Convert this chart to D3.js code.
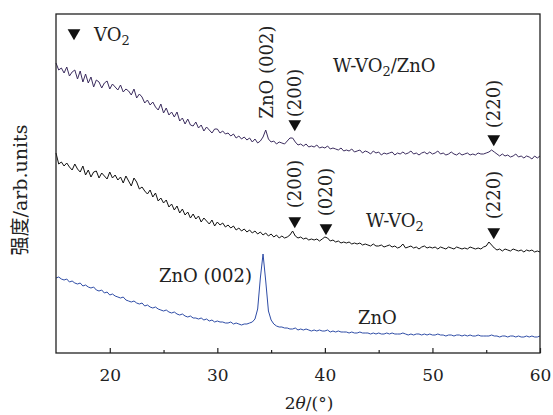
<!DOCTYPE html>
<html>
<head>
<meta charset="utf-8">
<script src="https://cdn.jsdelivr.net/npm/d3@7"></script>
<style>
  body { margin: 0; background: #fff; }
  svg text { font-family: "DejaVu Serif", serif; fill: #222; }
</style>
</head>
<body>
<div id="canvas"></div>
<script>
// 2theta grid of the scan, 0.25 deg steps from 15 to 60
var twoTheta = d3.range(0, 181).map(function(i){ return 15 + i * 0.25; });

// W-VO2/ZnO (top curve), arb. units
var wvo2zno = [
  290,283,285,280, 286,277,281,283, 274,282,271,279, 270,276,266,273,
  271,265,270,272, 264,269,266,263, 268,261,264,262, 258,264,255,259,
  256,250,253,248, 251,246,243,249, 240,245,238,241, 236,241,232,235,
  229,234,228,227, 231,225,228,222, 226,223,220,224, 224,220,222,219,
  220,217,219,215, 217,214,216,213, 215,211,214,210, 212,216,223,214,
  211,212,209,211, 210,209,212,215, 215,211,208,209, 207,209,206,207,
  206,208,205,206, 205,207,204,205, 204,203,205,202, 203,202,204,201,
  202,203,200,202, 201,199,202,200, 201,198,200,199, 200,201,198,200,
  199,201,199,200, 202,199,200,198, 200,201,199,201, 199,200,202,199,
  200,198,199,201, 199,198,200,198, 199,200,198,199, 198,200,199,199,
  200,201,203,201, 199,197,199,197, 198,196,197,199, 196,197,195,197,
  196,194,197,195, 197
];

// W-VO2 (middle curve)
var wvo2 = [
  200,189,191,187, 190,186,183,189, 184,181,187,178, 183,176,181,182,
  175,180,177,174, 181,175,178,173, 176,170,177,172, 167,175,171,164,
  166,162,159,163, 156,160,152,155, 150,153,146,149, 143,147,140,144,
  138,141,135,139, 134,137,131,135, 132,129,133,127, 131,128,130,126,
  128,125,127,123, 125,122,124,121, 123,120,122,119, 121,118,120,117,
  119,116,118,115, 117,115,116,118, 122,117,115,116, 114,115,113,114,
  113,114,112,114, 116,115,112,113, 111,112,110,111, 110,111,109,110,
  109,110,108,109, 108,107,109,107, 107,108,106,107, 108,106,107,105,
  106,109,105,106, 107,105,106,104, 106,107,105,106, 105,106,104,106,
  105,104,106,105, 104,106,105,104, 105,104,106,105, 104,105,104,106,
  107,111,108,105, 103,104,102,104, 103,102,104,103, 102,103,101,103,
  102,103,101,102, 101
];

// ZnO (bottom curve)
var zno = [
  75,76,74,73, 74,71,72,70, 69,70,67,68, 66,65,66,63,
  62,63,60,61, 58,59,57,56, 55,56,53,52, 51,52,50,49,
  50,47,48,46, 45,46,44,43, 42,43,41,40, 41,39,38,39,
  37,36,37,35, 35,34,35,33, 34,32,33,31, 32,31,31,30,
  30,31,29,30, 29,28,29,29, 30,31,34,44, 75,99,72,42,
  33,29,27,26, 26,25,25,24, 24,25,23,24, 23,24,23,22,
  23,22,23,22, 22,23,21,22, 21,22,21,21, 21,20,21,20,
  20,21,20,20, 20,19,20,19, 20,19,19,20, 19,20,19,19,
  19,20,19,18, 19,18,19,19, 18,19,18,19, 18,18,19,18,
  18,17,18,18, 17,18,18,17, 18,17,18,17, 17,18,17,17,
  17,17,18,17, 17,16,17,17, 16,17,17,16, 17,16,16,17,
  16,17,16,16, 17
];

var majorTicks = [20, 30, 40, 50, 60];
var minorTicks = [25, 35, 45, 55];

// VO2 reflections marked with triangles: [2theta, label]
var peaksTop = [[37.2, '(200)'], [55.7, '(220)']];
var peaksMid = [[37.2, '(200)'], [40.1, '(020)'], [55.7, '(220)']];

var outerWidth = 553, outerHeight = 415;
var m = {t:14, r:13, b:62, l:56};
var w = outerWidth - m.l - m.r,
    h = outerHeight - m.t - m.b;

var svg = d3.select('#canvas')
  .append('svg')
  .attr('width', outerWidth)
  .attr('height', outerHeight);

var plot = svg.append('g')
  .attr('transform', 'translate(' + m.l + ',' + m.t + ')');

var scaleX = d3.scaleLinear().domain([15, 60]).range([0, w]);
var scaleY = d3.scaleLinear().domain([0, 339]).range([h, 0]);

// curves
var series = [
  {vals: wvo2zno, color: '#3b2c5e'},
  {vals: wvo2, color: '#111'},
  {vals: zno, color: '#2e4ca6'}
];
var line = d3.line()
  .x(function(d){ return scaleX(d[0]); })
  .y(function(d){ return scaleY(d[1]); });

series.forEach(function(s){
  plot.append('path')
    .datum(twoTheta.map(function(t, i){ return [t, s.vals[i]]; }))
    .attr('d', line)
    .attr('fill', 'none')
    .attr('stroke', s.color)
    .attr('stroke-width', 1);
});

// frame
plot.append('rect')
  .attr('width', w).attr('height', h)
  .attr('fill', 'none').attr('stroke', '#222').attr('stroke-width', 1.3);

// x axis, ticks pointing inward
var axisX = d3.axisBottom(scaleX)
  .tickValues(majorTicks)
  .tickSizeInner(-5).tickSizeOuter(0)
  .tickPadding(16);
var gx = plot.append('g').attr('class', 'xAxis')
  .attr('transform', 'translate(0,' + h + ')')
  .call(axisX);
gx.select('.domain').remove();
gx.selectAll('line').attr('stroke', '#222').attr('stroke-width', 1.2);
gx.selectAll('text').style('font-size', '17px').attr('fill', '#222');

var axisMinor = d3.axisBottom(scaleX)
  .tickValues(minorTicks)
  .tickSizeInner(-3).tickSizeOuter(0)
  .tickFormat('');
var gm = plot.append('g')
  .attr('transform', 'translate(0,' + h + ')')
  .call(axisMinor);
gm.select('.domain').remove();
gm.selectAll('line').attr('stroke', '#222').attr('stroke-width', 1.2);

// axis titles
var xt = svg.append('text')
  .attr('x', 309).attr('y', 409)
  .attr('text-anchor', 'middle')
  .style('font-size', '17px');
xt.append('tspan').text('2');
xt.append('tspan').style('font-style', 'italic').text('θ');
xt.append('tspan').text('/(°)');

svg.append('text')
  .attr('transform', 'translate(27,190) rotate(-90)')
  .attr('text-anchor', 'middle')
  .style('font-size', '19px')
  .text('强度/arb.units')
  .style('font-family', '"DejaVu Serif", "Noto Sans CJK SC", serif');

// triangle marker
var tri = d3.symbol().type(d3.symbolTriangle).size(70);
function marker(x, y){
  plot.append('path')
    .attr('d', tri)
    .attr('transform', 'translate(' + x + ',' + y + ') rotate(180)')
    .attr('fill', '#111');
}
function vlabel(x, y, txt){
  plot.append('text')
    .attr('transform', 'translate(' + x + ',' + y + ') rotate(-90)')
    .attr('text-anchor', 'middle')
    .attr('dy', '0.35em')
    .style('font-size', '18px')
    .text(txt);
}

// legend
marker(18, 19);
var lg = plot.append('text').attr('x', 38).attr('y', 27).style('font-size', '18px');
lg.append('tspan').text('VO');
lg.append('tspan').attr('dy', 4).style('font-size', '13px').text('2');

// top curve peaks
var topLabelY = [79, 90];
var topMarkY = [110, 125];
peaksTop.forEach(function(p, i){
  marker(scaleX(p[0]), topMarkY[i]);
  vlabel(scaleX(p[0]), topLabelY[i], p[1]);
});
vlabel(scaleX(34.5) + 0.5, 58, 'ZnO (002)');

// middle curve peaks
var midLabelY = [170, 178, 181];
var midMarkY = [207, 214, 218];
peaksMid.forEach(function(p, i){
  marker(scaleX(p[0]), midMarkY[i]);
  vlabel(scaleX(p[0]), midLabelY[i], p[1]);
});

// curve names
var n1 = plot.append('text').attr('x', 277).attr('y', 58).style('font-size', '18px');
n1.append('tspan').text('W-VO');
n1.append('tspan').attr('dy', 4).style('font-size', '13px').text('2');
n1.append('tspan').attr('dy', -4).text('/ZnO');

var n2 = plot.append('text').attr('x', 310).attr('y', 213).style('font-size', '18px');
n2.append('tspan').text('W-VO');
n2.append('tspan').attr('dy', 4).style('font-size', '13px').text('2');

plot.append('text').attr('x', 103).attr('y', 268).style('font-size', '18px').text('ZnO (002)');
plot.append('text').attr('x', 302).attr('y', 310).style('font-size', '18px').text('ZnO');
</script>
</body>
</html>
